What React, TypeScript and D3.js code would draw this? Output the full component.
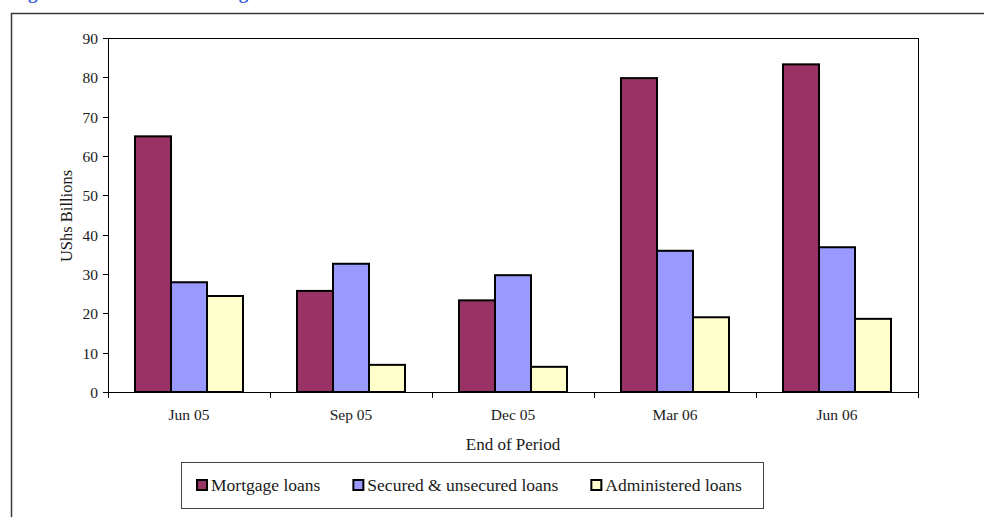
import React, { useEffect, useRef } from "react";
import * as d3 from "d3";

// Quarter-end periods
const periods = ["Jun 05", "Sep 05", "Dec 05", "Mar 06", "Jun 06"];

// Outstanding lending, UShs billions
const mortgageLoans = [65.0, 25.7, 23.3, 79.8, 83.3];
const securedUnsecuredLoans = [27.9, 32.6, 29.7, 35.9, 36.8];
const administeredLoans = [24.4, 6.9, 6.4, 19.0, 18.6];

const seriesNames = ["Mortgage loans", "Secured & unsecured loans", "Administered loans"];
const seriesColors = ["#993366", "#9999FF", "#FFFFCC"];

const yTicks = [0, 10, 20, 30, 40, 50, 60, 70, 80, 90];

const titleText = "Figure 12: Trends in Lending";
const xTitle = "End of Period";
const yTitle = "UShs Billions";

const W = 984;
const H = 517;
const FONT = "'Liberation Serif', 'Times New Roman', serif";

export default function App() {
  const ref = useRef<SVGSVGElement | null>(null);

  useEffect(() => {
    const svg = d3.select(ref.current);
    svg.selectAll("*").remove();

    const left = 108;
    const right = 918;
    const top = 38;
    const bottom = 392;

    const values = [mortgageLoans, securedUnsecuredLoans, administeredLoans];

    // Heading, mostly above the top edge of the page
    svg
      .append("text")
      .attr("x", 11)
      .attr("y", -1)
      .attr("font-family", FONT)
      .attr("font-weight", "bold")
      .attr("font-size", 19)
      .attr("fill", "#3a5fe0")
      .text(titleText);

    // Outer chart frame
    svg
      .append("rect")
      .attr("x", 11.5)
      .attr("y", 13.5)
      .attr("width", 1100)
      .attr("height", 700)
      .attr("fill", "none")
      .attr("stroke", "#3a3a3a")
      .attr("stroke-width", 1.5);

    const x = d3.scaleBand<string>().domain(periods).range([left, right]).padding(0);
    const inner = d3
      .scaleBand<string>()
      .domain(seriesNames)
      .range([x.bandwidth() / 6, (x.bandwidth() * 5) / 6])
      .padding(0);
    const y = d3.scaleLinear().domain([0, 90]).range([bottom, top]);

    // Plot area border
    svg
      .append("rect")
      .attr("x", left + 0.5)
      .attr("y", top + 0.5)
      .attr("width", right - left)
      .attr("height", bottom - top)
      .attr("fill", "none")
      .attr("stroke", "#000")
      .attr("stroke-width", 1);

    // Bars
    const g = svg.append("g");
    seriesNames.forEach((name, si) => {
      g.selectAll(null)
        .data(periods)
        .enter()
        .append("rect")
        .attr("x", (p) => (x(p) as number) + (inner(name) as number))
        .attr("y", (_, i) => y(values[si][i]))
        .attr("width", inner.bandwidth())
        .attr("height", (_, i) => y(0) - y(values[si][i]))
        .attr("fill", seriesColors[si])
        .attr("stroke", "#000")
        .attr("stroke-width", 2);
    });

    // Y axis
    const ya = svg.append("g");
    ya.append("line")
      .attr("x1", left + 0.5)
      .attr("x2", left + 0.5)
      .attr("y1", top)
      .attr("y2", bottom + 0.5)
      .attr("stroke", "#000");
    yTicks.forEach((t) => {
      const yy = Math.round(y(t)) + 0.5;
      ya.append("line")
        .attr("x1", left - 5)
        .attr("x2", left)
        .attr("y1", yy)
        .attr("y2", yy)
        .attr("stroke", "#000");
      ya.append("text")
        .attr("x", left - 10)
        .attr("y", yy)
        .attr("dy", "0.35em")
        .attr("text-anchor", "end")
        .attr("font-family", FONT)
        .attr("font-size", 15.5)
        .attr("fill", "#1a1a1a")
        .text(String(t));
    });

    // X axis
    const xa = svg.append("g");
    xa.append("line")
      .attr("x1", left)
      .attr("x2", right + 0.5)
      .attr("y1", bottom + 0.5)
      .attr("y2", bottom + 0.5)
      .attr("stroke", "#000");
    const boundaries = periods.map((p) => x(p) as number).concat([right]);
    boundaries.forEach((bx) => {
      const xx = Math.round(bx) + 0.5;
      xa.append("line")
        .attr("x1", xx)
        .attr("x2", xx)
        .attr("y1", bottom)
        .attr("y2", bottom + 6)
        .attr("stroke", "#000");
    });
    periods.forEach((p) => {
      xa.append("text")
        .attr("x", (x(p) as number) + x.bandwidth() / 2)
        .attr("y", 420)
        .attr("text-anchor", "middle")
        .attr("font-family", FONT)
        .attr("font-size", 15.5)
        .attr("fill", "#1a1a1a")
        .text(p);
    });

    // Axis titles
    svg
      .append("text")
      .attr("x", (left + right) / 2)
      .attr("y", 450)
      .attr("text-anchor", "middle")
      .attr("font-family", FONT)
      .attr("font-size", 17)
      .attr("fill", "#1a1a1a")
      .text(xTitle);
    svg
      .append("text")
      .attr("transform", `translate(72, 216) rotate(-90)`)
      .attr("text-anchor", "middle")
      .attr("font-family", FONT)
      .attr("font-size", 16.5)
      .attr("fill", "#1a1a1a")
      .text(yTitle);

    // Legend
    const lg = svg.append("g");
    lg.append("rect")
      .attr("x", 181.5)
      .attr("y", 462.5)
      .attr("width", 582)
      .attr("height", 46)
      .attr("fill", "#fff")
      .attr("stroke", "#444")
      .attr("stroke-width", 1);
    let cx = 197;
    seriesNames.forEach((name, si) => {
      lg.append("rect")
        .attr("x", cx)
        .attr("y", 480)
        .attr("width", 10)
        .attr("height", 10)
        .attr("fill", seriesColors[si])
        .attr("stroke", "#000")
        .attr("stroke-width", 2);
      const t = lg
        .append("text")
        .attr("x", cx + 14)
        .attr("y", 491)
        .attr("font-family", FONT)
        .attr("font-size", 17.5)
        .attr("fill", "#1a1a1a")
        .text(name);
      const w = (t.node() as SVGTextElement).getComputedTextLength();
      cx = cx + 14 + w + 33;
    });
  }, []);

  return (
    <svg
      ref={ref}
      width={W}
      height={H}
      style={{ position: "absolute", left: 0, top: 0, background: "#fff" }}
    />
  );
}
